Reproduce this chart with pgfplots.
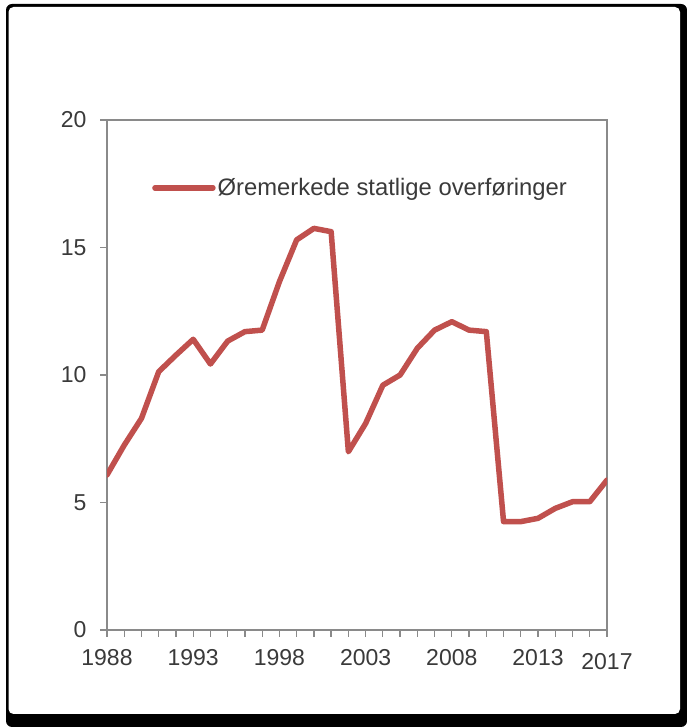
\documentclass[border=0pt]{standalone}
\usepackage{pgfplots}
\pgfplotsset{compat=1.18}
\usepackage{fontspec}
\setmainfont{Liberation Sans}
\definecolor{linered}{HTML}{C0504D}
\definecolor{axgray}{HTML}{8A8A8A}
\definecolor{txt}{HTML}{3A3A3A}
\begin{document}
\begin{tikzpicture}
\useasboundingbox (0bp,0bp) rectangle (687bp,727bp);
\fill[black, rounded corners=6bp] (6bp,0bp) rectangle (687bp,723bp);
\fill[white, rounded corners=5bp] (8.5bp,13bp) rectangle (680bp,720bp);
\begin{axis}[
  at={(107bp,97bp)}, anchor=south west,
  scale only axis, width=500bp, height=510bp,
  xmin=1988, xmax=2017, ymin=0, ymax=20,
  xtick={1988,1993,1998,2003,2008,2013},
  extra x ticks={2017},
  extra x tick style={tick label style={yshift=-4bp}},
  minor xtick={1988,...,2017},
  ytick={0,5,10,15,20},
  tick align=outside,
  major tick length=7bp, minor tick length=7bp,
  xtick pos=bottom, ytick pos=left,
  tick style={axgray, line width=1.3bp},
  axis line style={axgray, line width=1.6bp},
  /pgf/number format/assume math mode=true,
  /pgf/number format/1000 sep=,
  tick label style={font=\fontsize{23bp}{27bp}\selectfont, text=txt},
  xticklabel style={yshift=-9bp},
  yticklabel style={xshift=-10bp},
  legend style={at={(0.09,0.867)}, anchor=west, draw=none, fill=none,
    font=\fontsize{23.8bp}{28bp}\selectfont, text=txt, inner sep=0pt,
    nodes={inner sep=2bp}},
  legend image code/.code={\draw[#1] (0bp,0bp) -- (58bp,0bp);},
  legend cell align=left,
]
\addplot[linered, line width=5.5bp, line join=round, line cap=round] coordinates {
(1988,6.08) (1989,7.25) (1990,8.3) (1991,10.13) (1992,10.78) (1993,11.4)
(1994,10.43) (1995,11.33) (1996,11.7) (1997,11.76) (1998,13.66) (1999,15.3)
(2000,15.75) (2001,15.62) (2002,6.99) (2003,8.1) (2004,9.6) (2005,10.0)
(2006,11.05) (2007,11.76) (2008,12.09) (2009,11.76) (2010,11.7) (2011,4.25)
(2012,4.25) (2013,4.38) (2014,4.77) (2015,5.03) (2016,5.03) (2017,5.88)
};
\addlegendentry{Øremerkede statlige overføringer}
\end{axis}
\end{tikzpicture}
\end{document}
